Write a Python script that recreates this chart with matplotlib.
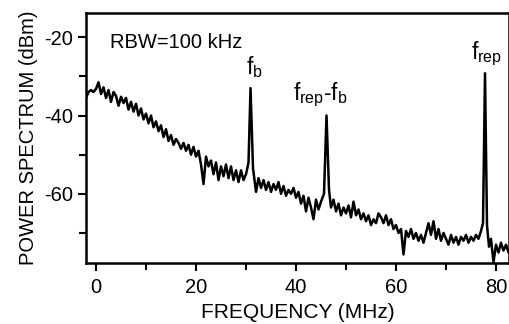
import matplotlib
matplotlib.use('Agg')
import matplotlib.pyplot as plt
from matplotlib.ticker import MultipleLocator

plt.rcParams['font.family'] = ['Liberation Sans', 'DejaVu Sans']
plt.rcParams['axes.unicode_minus'] = False

# spectrum trace (MHz, dBm)
freq = [-2.0, -1.5, -1.0, -0.5, 0.0, 0.5, 1.0, 1.5, 2.0, 2.5,
        3.0, 3.5, 4.0, 4.5, 5.0, 5.5, 6.0, 6.5, 7.0, 7.5,
        8.0, 8.5, 9.0, 9.5, 10.0, 10.5, 11.0, 11.5, 12.0, 12.5,
        13.0, 13.5, 14.0, 14.5, 15.0, 15.5, 16.0, 16.5, 17.0, 17.5,
        18.0, 18.5, 19.0, 19.5, 20.0, 20.5, 21.0, 21.5, 22.0, 22.5,
        23.0, 23.5, 24.0, 24.5, 25.0, 25.5, 26.0, 26.5, 27.0, 27.5,
        28.0, 28.5, 29.0, 29.5, 30.0, 30.5, 30.9, 31.4, 32.0, 32.5,
        33.0, 33.5, 34.0, 34.5, 35.0, 35.5, 36.0, 36.5, 37.0, 37.5,
        38.0, 38.5, 39.0, 39.5, 40.0, 40.5, 41.0, 41.5, 42.0, 42.5,
        43.0, 43.5, 44.0, 44.5, 45.0, 45.6, 46.1, 46.6, 47.0, 47.5,
        48.0, 48.5, 49.0, 49.5, 50.0, 50.5, 51.0, 51.5, 52.0, 52.5,
        53.0, 53.5, 54.0, 54.5, 55.0, 55.5, 56.0, 56.5, 57.0, 57.5,
        58.0, 58.5, 59.0, 59.5, 60.0, 60.5, 61.0, 61.5, 62.0, 62.5,
        63.0, 63.5, 64.0, 64.5, 65.0, 65.5, 66.0, 66.5, 67.0, 67.5,
        68.0, 68.5, 69.0, 69.5, 70.0, 70.5, 71.0, 71.5, 72.0, 72.5,
        73.0, 73.5, 74.0, 74.5, 75.0, 75.5, 76.0, 76.5, 77.0, 77.4,
        77.8, 78.2, 78.6, 79.0, 79.5, 80.0, 80.5, 81.0, 81.5, 82.0,
        82.5, 83.0]
power = [-35.5, -34.0, -33.5, -34.0, -33.2, -31.5, -34.5, -32.8, -35.5, -33.5,
         -36.5, -34.0, -35.0, -37.5, -35.2, -36.8, -35.5, -38.5, -36.5, -39.0,
         -37.0, -40.0, -38.2, -41.0, -39.5, -42.0, -40.0, -43.0, -41.5, -44.0,
         -42.5, -45.5, -43.5, -46.5, -45.0, -47.5, -46.0, -47.0, -48.5, -47.0,
         -49.0, -47.5, -50.0, -48.0, -50.5, -49.0, -52.5, -57.5, -50.5, -53.0,
         -51.5, -55.0, -52.0, -56.5, -53.0, -55.5, -52.5, -56.0, -53.0, -56.5,
         -54.0, -57.0, -54.0, -56.5, -55.0, -52.0, -33.0, -53.5, -59.5, -56.0,
         -58.5, -56.5, -59.0, -57.0, -59.5, -57.5, -59.0, -57.0, -60.0, -58.0,
         -60.5, -59.0, -60.0, -58.5, -61.0, -59.5, -62.5, -60.5, -64.5, -61.0,
         -63.5, -66.5, -61.5, -64.0, -62.0, -60.0, -40.0, -59.0, -63.5, -61.5,
         -64.5, -62.5, -65.5, -63.5, -65.0, -63.0, -66.0, -62.0, -65.5, -64.0,
         -66.5, -65.0, -67.0, -65.5, -68.0, -66.5, -67.5, -65.0, -66.0, -67.5,
         -65.5, -68.0, -66.5, -69.0, -68.0, -70.0, -69.0, -75.5, -69.5, -71.0,
         -69.0, -71.5, -70.0, -72.0, -70.5, -72.5, -70.0, -67.5, -70.5, -67.0,
         -71.5, -69.0, -72.0, -70.0, -71.5, -73.0, -70.5, -72.5, -71.0, -73.0,
         -71.0, -72.0, -70.5, -72.5, -71.0, -72.0, -70.5, -71.5, -69.5, -67.5,
         -29.2, -68.0, -73.5, -71.5, -77.5, -73.0, -75.0, -72.5, -74.5, -73.0,
         -75.0, -73.5]

# peak labels: (text, x, y)
peak_labels = [(r'f$_\mathregular{b}$', 31.6, -30.8),
               (r'f$_\mathregular{rep}$-f$_\mathregular{b}$', 44.8, -38.3),
               (r'f$_\mathregular{rep}$', 78.2, -27.8)]

fig = plt.figure(figsize=(5.09, 3.24), dpi=100)
ax = fig.add_axes([0.169, 0.188, 0.831, 0.772])

ax.plot(freq, power, color='black', lw=1.8)

ax.set_xlim(-2, 82.6)
ax.set_ylim(-77.7, -13.8)
ax.xaxis.set_major_locator(MultipleLocator(20))
ax.xaxis.set_minor_locator(MultipleLocator(10))
ax.yaxis.set_major_locator(MultipleLocator(20))
ax.yaxis.set_minor_locator(MultipleLocator(10))
ax.tick_params(which='both', direction='out', width=1.5, labelsize=14.5)
ax.tick_params(axis='x', which='both', pad=5)
ax.tick_params(which='major', length=6)
ax.tick_params(which='minor', length=5)
for s in ax.spines.values():
    s.set_linewidth(1.8)

ax.set_xlabel('FREQUENCY (MHz)', fontsize=15, labelpad=4)
ax.set_ylabel('POWER SPECTRUM (dBm)', fontsize=14.5, labelpad=4)

ax.text(2.8, -21.3, 'RBW=100 kHz', fontsize=14.5, va='center')
for txt, x, y in peak_labels:
    ax.text(x, y, txt, fontsize=16.5, ha='center', va='bottom')

fig.savefig('out.png', dpi=100)
